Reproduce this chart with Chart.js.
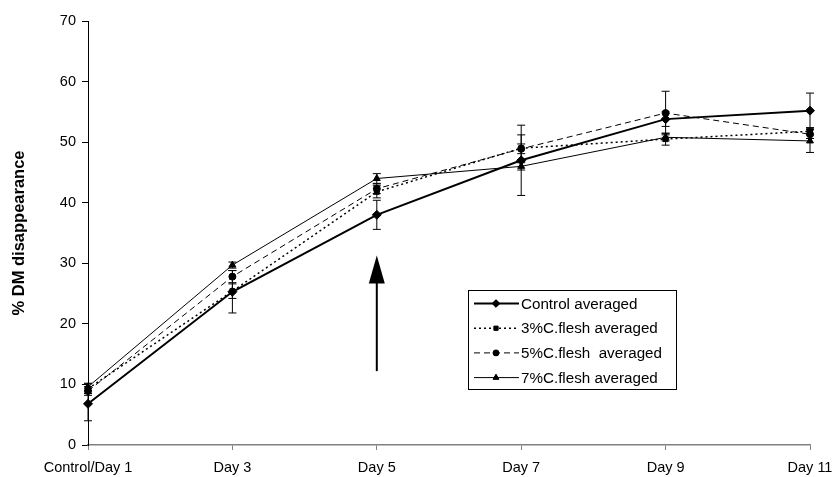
<!DOCTYPE html>
<html>
<head>
<meta charset="utf-8">
<script src="https://cdn.jsdelivr.net/npm/chart.js@4.4.1/dist/chart.umd.min.js"></script>
<style>
  html, body { margin: 0; padding: 0; background: #fff; }
  #wrap { width: 838px; height: 477px; }
</style>
</head>
<body>
<div id="wrap"><canvas id="dm"></canvas></div>
<script>
const days = ["Control/Day 1", "Day 3", "Day 5", "Day 7", "Day 9", "Day 11"];
const yTicks = [0, 10, 20, 30, 40, 50, 60, 70];

const control = [6.8, 25.3, 38.0, 47.0, 53.8, 55.2];
const flesh3 = [9.3, 25.4, 41.8, 49.0, 50.5, 51.8];
const flesh5 = [8.9, 27.8, 42.3, 48.9, 54.8, 51.3];
const flesh7 = [9.6, 29.7, 44.0, 46.0, 50.8, 50.2];

// +/- error for each series
const controlErr = [2.8, 3.5, 2.4, 5.8, 1.2, 2.9];
const flesh3Err = [0.8, 1.2, 1.0, 2.2, 1.0, 0.6];
const flesh5Err = [0.7, 1.0, 0.8, 0.8, 3.6, 0.7];
const flesh7Err = [0.6, 0.5, 0.8, 0.6, 0.6, 1.9];

// arrow under Day 5, in data units
const arrowDay = 2;
const arrowFrom = 12.2;
const arrowTo = 31.3;

const FONT = "'Liberation Sans', Arial, sans-serif";

const series = [
  { label: "Control averaged", data: control, err: controlErr, style: "rectRot", radius: 4.5, width: 2, dash: [] },
  { label: "3%C.flesh averaged", data: flesh3, err: flesh3Err, style: "rect", radius: 3.5, width: 1.5, dash: [2, 3] },
  { label: "5%C.flesh  averaged", data: flesh5, err: flesh5Err, style: "circle", radius: 3.5, width: 1, dash: [6, 4] },
  { label: "7%C.flesh averaged", data: flesh7, err: flesh7Err, style: "triangle", radius: 4, width: 1, dash: [] }
];

const errorBars = {
  id: "errorBars",
  afterDatasetsDraw(chart) {
    const ctx = chart.ctx;
    const x = chart.scales.x, y = chart.scales.y;
    ctx.save();
    ctx.strokeStyle = "#000";
    ctx.lineWidth = 1;
    series.forEach(s => {
      s.data.forEach((v, i) => {
        const px = x.getPixelForValue(i);
        const top = y.getPixelForValue(v + s.err[i]);
        const bot = y.getPixelForValue(v - s.err[i]);
        ctx.beginPath();
        ctx.moveTo(px, top); ctx.lineTo(px, bot);
        ctx.moveTo(px - 4, top); ctx.lineTo(px + 4, top);
        ctx.moveTo(px - 4, bot); ctx.lineTo(px + 4, bot);
        ctx.stroke();
      });
    });

    // arrow
    const ax = x.getPixelForValue(arrowDay);
    const a0 = y.getPixelForValue(arrowFrom);
    const a1 = y.getPixelForValue(arrowTo);
    ctx.lineWidth = 2;
    ctx.beginPath();
    ctx.moveTo(ax, a0); ctx.lineTo(ax, a1 + 24);
    ctx.stroke();
    ctx.fillStyle = "#000";
    ctx.beginPath();
    ctx.moveTo(ax, a1);
    ctx.lineTo(ax - 8, a1 + 28);
    ctx.lineTo(ax + 8, a1 + 28);
    ctx.closePath();
    ctx.fill();

    // legend box
    const lx = 468, ly = 290, lw = 208, lh = 99;
    ctx.lineWidth = 1;
    ctx.strokeRect(lx + 0.5, ly + 0.5, lw, lh);
    ctx.font = "15.2px " + FONT;
    ctx.textBaseline = "middle";
    series.forEach((s, i) => {
      const ry = ly + 13.5 + i * 24.7;
      ctx.save();
      ctx.lineWidth = s.width;
      ctx.setLineDash(s.dash);
      ctx.beginPath();
      ctx.moveTo(lx + 6, ry); ctx.lineTo(lx + 51, ry);
      ctx.stroke();
      ctx.restore();
      Chart.helpers.drawPoint(ctx, { pointStyle: s.style, radius: s.radius * 0.85, borderWidth: 1 }, lx + 28, ry);
      ctx.fill();
      ctx.fillStyle = "#000";
      ctx.fillText(s.label, lx + 53, ry + 1);
    });
    ctx.restore();
  }
};

new Chart(document.getElementById("dm"), {
  type: "line",
  data: {
    labels: days,
    datasets: series.map(s => ({
      label: s.label,
      data: s.data,
      borderColor: "#000",
      backgroundColor: "#000",
      borderWidth: s.width,
      borderDash: s.dash,
      pointStyle: s.style,
      pointRadius: s.radius,
      pointBorderWidth: 1,
      tension: 0
    }))
  },
  options: {
    responsive: true,
    maintainAspectRatio: false,
    animation: false,
    layout: { padding: { left: 0, right: 28, top: 21, bottom: 0 } },
    plugins: {
      legend: { display: false },
      tooltip: { enabled: false }
    },
    scales: {
      x: {
        offset: false,
        grid: { display: true, drawOnChartArea: false, offset: false, tickLength: 5, color: "#808080" },
        border: { color: "#808080", width: 1.5 },
        ticks: {
          color: "#000",
          font: { family: FONT, size: 14.5 },
          maxRotation: 0,
          minRotation: 0,
          autoSkip: false,
          padding: 9
        },
        afterFit(scale) {
          scale.height = 32;
          scale.paddingLeft = 0;
          scale.paddingRight = 0;
        }
      },
      y: {
        min: 0,
        max: 70,
        afterBuildTicks(scale) { scale.ticks = yTicks.map(v => ({ value: v })); },
        grid: { display: true, drawOnChartArea: false, tickLength: 6, color: "#000" },
        border: { color: "#000", width: 1 },
        ticks: {
          color: "#000",
          font: { family: FONT, size: 14.5 },
          padding: 6
        },
        title: {
          display: true,
          text: "% DM disappearance",
          color: "#000",
          font: { family: FONT, size: 16.5, weight: "bold" },
          padding: { top: 10, bottom: 0 }
        },
        afterFit(scale) { scale.width = 88; }
      }
    }
  },
  plugins: [errorBars]
});
</script>
</body>
</html>
